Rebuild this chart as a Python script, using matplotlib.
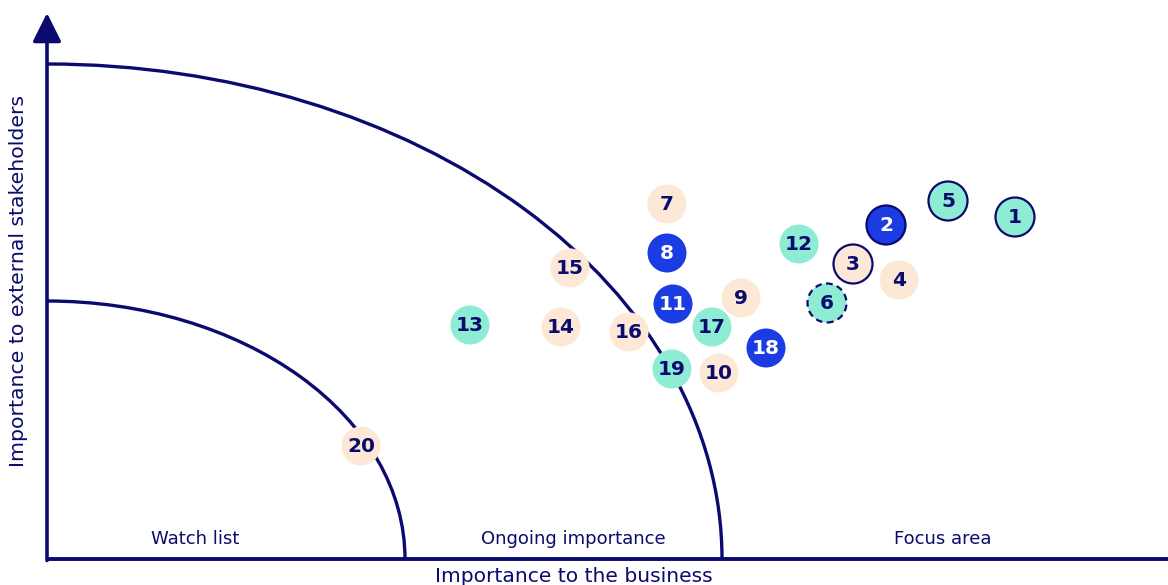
import matplotlib.pyplot as plt
from matplotlib.patches import Circle, Arc

# Topic scores (business importance, stakeholder importance)
topic_ids = list(range(1, 21))
business = [96.8, 83.9, 80.6, 85.2, 90.1, 78.0, 62.0, 62.0, 69.4, 67.2,
            62.6, 75.2, 42.3, 51.4, 52.3, 58.2, 66.5, 71.9, 62.5, 31.4]
stakeholders = [34.2, 33.4, 29.5, 27.9, 35.8, 25.6, 35.5, 30.6, 26.1, 18.6,
                25.5, 31.5, 23.4, 23.2, 29.1, 22.7, 23.2, 21.1, 19.0, 11.3]
category = ["env", "gov", "soc", "soc", "env", "env", "soc", "gov", "soc", "soc",
            "gov", "env", "env", "soc", "soc", "soc", "env", "gov", "env", "soc"]
outline = ["solid", "solid", "solid", None, "solid", "dashed", None, None, None, None,
           None, None, None, None, None, None, None, None, None, None]

zone_labels = ["Watch list", "Ongoing importance", "Focus area"]
zone_label_x = [14.8, 52.6, 89.6]
# Zone boundaries (quarter ellipses around origin): (x radius, y radius)
zone_radii = [(35.8, 25.8), (67.5, 49.5)]

NAVY = "#0b0a6e"
fill_color = {"env": "#8eebd4", "gov": "#1b3be3", "soc": "#fde8d6"}
text_color = {"env": NAVY, "gov": "white", "soc": NAVY}

FONT = "DejaVu Sans"

fig = plt.figure(figsize=(11.68, 5.85), dpi=100)
ax = fig.add_axes([0, 0, 1, 1])
ax.set_xlim(-4.7, 112.1)
ax.set_ylim(-2.6, 55.9)
ax.set_aspect("equal")
ax.axis("off")

# Axes
ax.plot([0, 112.1], [0, 0], color=NAVY, lw=2.8, solid_capstyle="butt", zorder=3)
ax.annotate("", xy=(0, 54.6), xytext=(0, -0.15),
            arrowprops=dict(arrowstyle="-|>,head_length=0.8,head_width=0.4",
                            mutation_scale=22, lw=2.6, color=NAVY,
                            shrinkA=0, shrinkB=0),
            zorder=3)

# Zone boundaries
for rx, ry in zone_radii:
    ax.add_patch(Arc((0, 0), 2 * rx, 2 * ry, theta1=0, theta2=90,
                     color=NAVY, lw=2.4, zorder=2))

# Topic markers
r = 1.95
for tid, bx, sy, cat, ol in zip(topic_ids, business, stakeholders, category, outline):
    circ = Circle((bx, sy), r, facecolor=fill_color[cat],
                  edgecolor=NAVY if ol else "none",
                  lw=1.6 if ol else 0,
                  linestyle=(0, (3, 2)) if ol == "dashed" else "-",
                  zorder=4)
    ax.add_patch(circ)
    ax.text(bx, sy - 0.05, str(tid), ha="center", va="center", fontsize=14.5,
            fontweight="bold", color=text_color[cat], family=FONT, zorder=5)

# Zone labels
for lbl, lx in zip(zone_labels, zone_label_x):
    ax.text(lx, 2.0, lbl, ha="center", va="center", fontsize=13,
            color=NAVY, family=FONT)

ax.text(52.7, -1.75, "Importance to the business", ha="center", va="center",
        fontsize=14.6, color=NAVY, family=FONT)
ax.text(-2.8, 27.8, "Importance to external stakeholders", ha="center",
        va="center", rotation=90, fontsize=14.7, color=NAVY, family=FONT)

fig.savefig("out.png", dpi=100)
